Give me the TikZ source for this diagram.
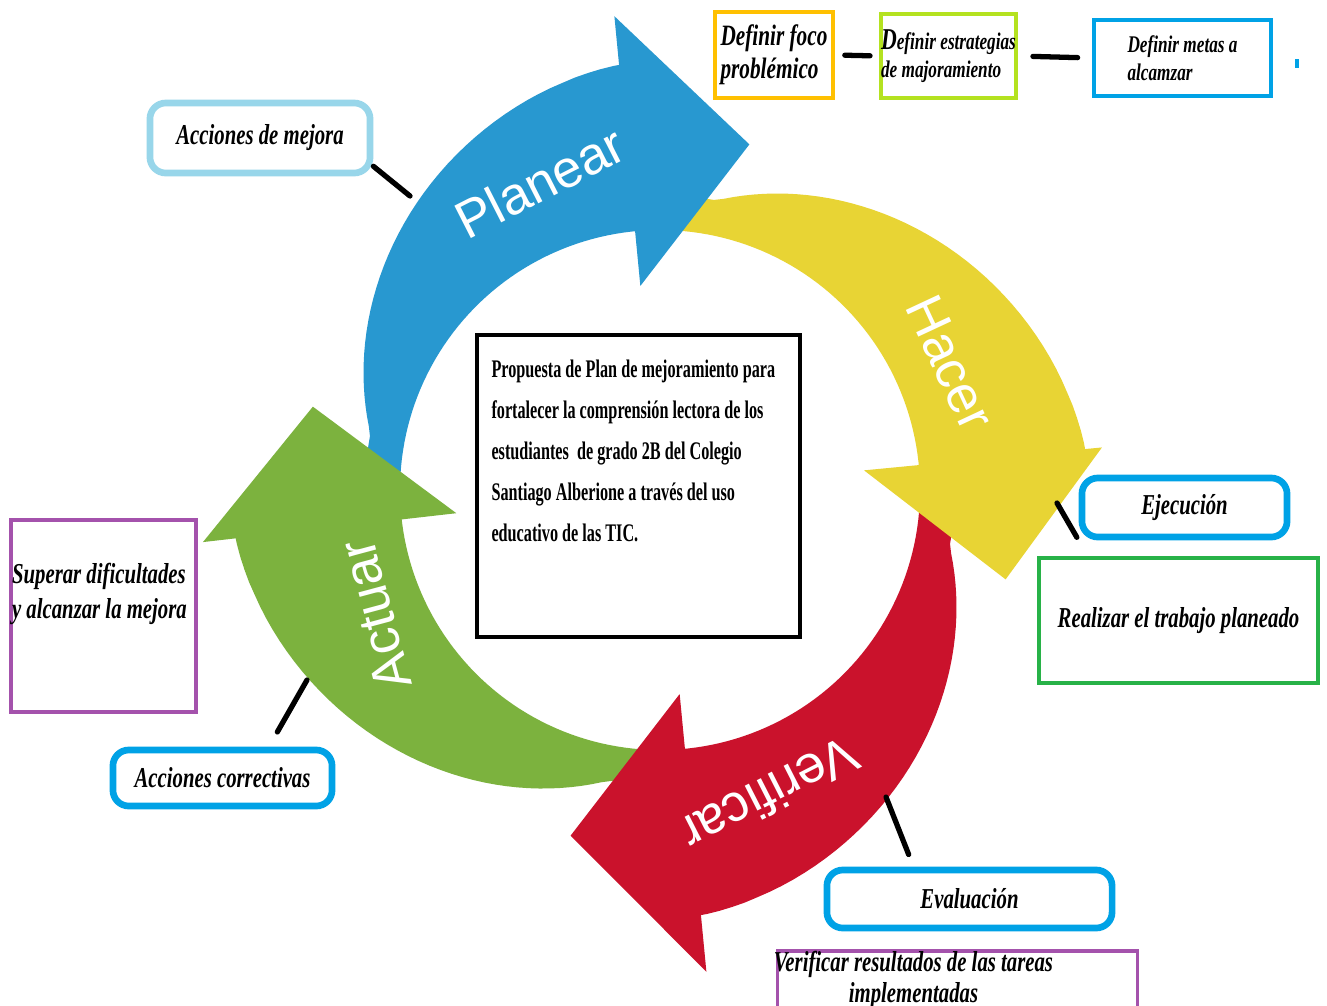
\documentclass[tikz,border=0pt]{standalone}
\usepackage{fontspec}
\setsansfont{Liberation Sans}
\newfontfamily\tagfont[FakeStretch=0.72]{Liberation Serif}
\newfontfamily\propfont[FakeStretch=0.64]{Liberation Serif}
\usetikzlibrary{positioning}
\definecolor{planblue}{RGB}{40,152,208}
\definecolor{hacyellow}{RGB}{232,212,52}
\definecolor{verred}{RGB}{202,18,44}
\definecolor{actgreen}{RGB}{124,178,62}
\definecolor{focoorange}{RGB}{255,192,0}
\definecolor{estrlime}{RGB}{180,226,32}
\definecolor{boxblue}{RGB}{0,162,230}
\definecolor{mejblue}{RGB}{152,214,234}
\definecolor{realgreen}{RGB}{40,178,72}
\definecolor{supviolet}{RGB}{164,82,172}
\newcommand{\tagsize}[2]{\tagfont\bfseries\itshape\fontsize{#1}{#2}\selectfont}
\tikzset{
  tagtext/.style={font={\tagsize{8.2}{10}}, inner sep=0pt},
  sqbox/.style={draw, line width=1.1pt, inner sep=0pt},
  roundbox/.style={draw=boxblue, line width=1.9pt, rounded corners=4.5pt, tagtext},
  link/.style={line width=1.5pt, line cap=round},
  phase/.style={text=white, font=\sffamily\fontsize{15}{15}\selectfont}
}
\begin{document}
\begin{tikzpicture}[x=0.01cm, y=-0.01cm]
  \useasboundingbox (0,0) rectangle (1327,1006);
  \fill[white] (0,0) rectangle (1327,1006);

  % cuerpos de las flechas
  \foreach \ang/\col in {94/planblue, 4/hacyellow, 274/verred, 185/actgreen}
    \fill[\col] plot[domain=0.5:88, samples=50, variable=\t]
        ({660+(295+133*(1-(min(\t,75)/75)^1.3))*cos(\ang+\t)}, {490-(295+133*(1-(min(\t,75)/75)^1.3))*sin(\ang+\t)})
      -- plot[domain=88:0.5, samples=50, variable=\t] ({660+260*cos(\ang+\t)}, {490-260*sin(\ang+\t)}) -- cycle;
  % puntas
  \foreach \ang/\col/\rb in {94/planblue/476, 4/hacyellow/444, 274/verred/484, 185/actgreen/460}
    \fill[\col] ({660+\rb*cos(\ang+1.5)}, {490-\rb*sin(\ang+1.5)})
      -- ({660+357*cos(\ang-18.5)}, {490-357*sin(\ang-18.5)})
      -- ({660+205*cos(\ang+1.5)}, {490-205*sin(\ang+1.5)}) -- cycle;

  \node[phase, rotate=27] (planear) at (540,182) {Planear};
  \node[phase, rotate=-65] (hacer) at (950,363) {Hacer};
  \node[phase, rotate=207] (verificar) at (770,795) {Verificar};
  \node[phase, rotate=105] (actuar) at (375,615) {Actuar};

  \coordinate (planpt) at (410,196);
  \coordinate (hacerpt) at (1057,503);
  \coordinate (verpt) at (886,797);
  \coordinate (actpt) at (307,680);

  % propuesta
  \node[draw, line width=1.2pt, minimum width=3.23cm, minimum height=3.02cm, inner sep=0pt] (plan) at (638.5,486) {};
  \node[inner sep=0pt, align=left, font={\propfont\bfseries\fontsize{7.2}{11.7}\selectfont},
    below right=0.26cm and 0.16cm of plan.north west] (plantext)
    {Propuesta de Plan de mejoramiento para\\fortalecer la comprensión lectora de los\\estudiantes\ \ de grado 2B del Colegio\\Santiago Alberione a través del uso\\educativo de las TIC.};

  % planear
  \node[sqbox, draw=focoorange, tagtext, font={\tagsize{8.4}{9.4}}, minimum width=1.18cm, minimum height=0.86cm,
    align=left] (foco) at (774,55) {Definir foco\\problémico};
  \node[sqbox, draw=estrlime, tagtext, font={\tagsize{6.8}{8}}, minimum width=1.33cm, minimum height=0.84cm,
    align=left] (estr) at (948.5,56)
    {{\fontsize{8.6}{8}\selectfont D}efinir estrategias\\de majoramiento};
  \node[sqbox, draw=boxblue, line width=1.3pt, tagtext, font={\tagsize{6.8}{8}}, minimum width=1.77cm, minimum height=0.76cm,
    align=left] (metas) at (1182.5,58) {Definir metas a\\alcamzar};
  \fill[boxblue] (1295,59) rectangle (1299,68);
  \draw[link, shorten <=2.8pt, shorten >=2.6pt] (foco.east) -- (estr.west);
  \draw[link, shorten <=4.3pt, shorten >=4pt] (estr.east) -- (metas.west);

  \node[roundbox, draw=mejblue, minimum width=2.2cm, minimum height=0.7cm] (mejora) at (260,138) {Acciones de mejora};
  \draw[link] (mejora.-14) -- (planpt);

  % hacer
  \node[roundbox, minimum width=2.05cm, minimum height=0.59cm] (ejec) at (1184.5,507.5) {Ejecución};
  \node[sqbox, draw=realgreen, tagtext, minimum width=2.79cm, minimum height=1.25cm] (real) at (1178.5,620.5) {Realizar el trabajo planeado};
  \draw[link, shorten >=1pt] (hacerpt) -- (ejec.south west);

  % verificar
  \node[roundbox, minimum width=2.85cm, minimum height=0.58cm] (eval) at (969.5,899) {Evaluación};
  \draw[link, shorten >=3.7pt] (verpt) -- (eval.150);
  \node[sqbox, draw=supviolet, line width=0.9pt, minimum width=3.59cm, minimum height=1.0cm] (vbox) at (957.5,1001) {};
  \node[tagtext, font={\tagsize{8.2}{8.8}}, align=center, below=0.01cm of vbox.north, xshift=-0.44cm] (vtext)
    {Verificar resultados de las tareas\\implementadas};

  % actuar
  \node[roundbox, minimum width=2.19cm, minimum height=0.56cm] (corr) at (222.5,778) {Acciones correctivas};
  \draw[link, shorten >=4.8pt] (actpt) -- (corr.34);
  \node[sqbox, draw=supviolet, line width=0.9pt, minimum width=1.85cm, minimum height=1.92cm] (sup) at (103.5,616) {};
  \node[tagtext, font={\tagsize{8.2}{10}}, align=left, below right=0.44cm and 0.02cm of sup.north west] (suptext)
    {Superar dificultades\\y alcanzar la mejora};
\end{tikzpicture}
\end{document}
